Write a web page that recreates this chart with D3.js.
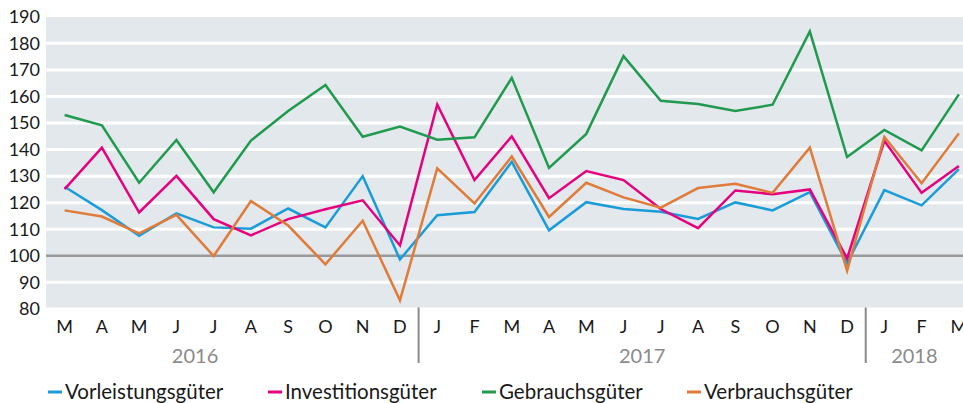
<!DOCTYPE html>
<html lang="de">
  <head>
    <meta charset="UTF-8" />
    <title>Produktion nach Gütergruppen</title>
    <script src="https://d3js.org/d3.v7.min.js"></script>
    <style>
      body {
        margin: 0;
        background: #fff;
        font-family: Lato, "Noto Sans", sans-serif;
      }
      svg text {
        fill: #1a1a1a;
      }
    </style>
  </head>
  <body>
    <div id="chart"></div>
    <script>
      // Monate März 2016 bis März 2018
      const months = ["M", "A", "M", "J", "J", "A", "S", "O", "N", "D",
        "J", "F", "M", "A", "M", "J", "J", "A", "S", "O", "N", "D",
        "J", "F", "M"];
      // Jahre als Monatsindex (2016 beginnt eigentlich im Januar = -2)
      const years = [
        { label: "2016", from: -2, to: 9 },
        { label: "2017", from: 10, to: 21 },
        { label: "2018", from: 22, to: 33 }
      ];
      const yTicks = [80, 90, 100, 110, 120, 130, 140, 150, 160, 170, 180, 190];

      const vorleistung = [126, 117.2, 107.5, 116, 110.7, 110.2, 117.8, 110.7, 130, 98.6,
        115.3, 116.5, 135.4, 109.6, 120.2, 117.6, 116.6, 113.9, 120.1, 117.1, 124, 97.1,
        124.7, 119, 132.6];
      const investition = [125.1, 140.7, 116.3, 130.1, 113.8, 107.7, 113.8, 117.5, 120.9, 103.9,
        157, 128.5, 145, 121.7, 131.9, 128.5, 117.6, 110.4, 124.6, 123.2, 125, 99,
        143.3, 123.7, 133.8];
      const gebrauch = [153, 149.1, 127.5, 143.6, 123.9, 143.4, 154.5, 164.3, 144.8, 148.7,
        143.7, 144.6, 167, 133.1, 145.9, 175.2, 158.4, 157.2, 154.5, 156.9, 184.5, 137.2,
        147.4, 139.7, 160.8];
      const verbrauch = [117.1, 114.8, 108.4, 115.4, 99.9, 120.6, 111.4, 96.8, 113.2, 83.2,
        132.9, 119.7, 137.4, 114.6, 127.5, 122, 118.1, 125.5, 127.1, 123.7, 140.7, 94.4,
        144.8, 127.3, 146.1];

      const series = [
        { name: "Vorleistungsgüter", color: "#1a9cd8", values: vorleistung },
        { name: "Investitionsgüter", color: "#e6007e", values: investition },
        { name: "Gebrauchsgüter", color: "#1f9a4e", values: gebrauch },
        { name: "Verbrauchsgüter", color: "#e07b39", values: verbrauch }
      ];

      const width = 963;
      const height = 403;
      const plotLeft = 46;
      const plotTop = 17;
      const plotBottom = 307.5;
      const step = 37.26;

      const svg = d3.select("#chart")
        .append("svg")
        .attr("width", width)
        .attr("height", height);

      const x = d3.scaleBand()
        .domain(d3.range(months.length))
        .range([plotLeft, plotLeft + step * months.length]);

      // Monatsindex -> linker Rand des Monats (auch außerhalb des Bereichs)
      const xEdge = d3.scaleLinear()
        .domain([0, months.length])
        .range(x.range());

      const y = d3.scaleLinear()
        .domain([80, 190])
        .range([308.9, 16.8]);

      const cx = i => x(i) + x.bandwidth() / 2;

      // Hintergrund
      svg.append("rect")
        .attr("x", plotLeft)
        .attr("y", plotTop)
        .attr("width", width - plotLeft)
        .attr("height", plotBottom - plotTop)
        .attr("fill", "#e3e8ec");

      // Gitterlinien
      svg.append("g")
        .selectAll("line")
        .data(yTicks.filter(d => d > 80 && d < 190))
        .join("line")
        .attr("x1", plotLeft)
        .attr("x2", width)
        .attr("y1", d => y(d))
        .attr("y2", d => y(d))
        .attr("stroke", d => d === 100 ? "#9a9a9a" : "#ffffff")
        .attr("stroke-width", d => d === 100 ? 2.5 : 3);

      // y-Achse
      svg.append("g")
        .selectAll("text")
        .data(yTicks)
        .join("text")
        .attr("x", 40)
        .attr("y", d => y(d))
        .attr("dy", "0.35em")
        .attr("text-anchor", "end")
        .style("font-size", "18px")
        .text(d => d);

      // Linien
      const line = d3.line()
        .x((d, i) => cx(i))
        .y(d => y(d));

      svg.append("g")
        .selectAll("path")
        .data(series)
        .join("path")
        .attr("d", d => line(d.values))
        .attr("fill", "none")
        .attr("stroke", d => d.color)
        .attr("stroke-width", 2.5)
        .attr("stroke-linejoin", "miter");

      // Monate
      svg.append("g")
        .selectAll("text")
        .data(months)
        .join("text")
        .attr("x", (d, i) => cx(i))
        .attr("y", 333)
        .attr("text-anchor", "middle")
        .style("font-size", "18px")
        .text(d => d);

      // Jahre und Trenner (Beschriftung mittig im sichtbaren Teil des Jahres)
      const yearG = svg.append("g");
      yearG.selectAll("text")
        .data(years)
        .join("text")
        .attr("x", d => (xEdge(d.from) + Math.min(xEdge(d.to + 1), width)) / 2)
        .attr("y", 363)
        .attr("text-anchor", "middle")
        .style("font-size", "20px")
        .style("fill", "#8a8a8a")
        .text(d => d.label);

      yearG.selectAll("line")
        .data(years.slice(1))
        .join("line")
        .attr("x1", d => xEdge(d.from))
        .attr("x2", d => xEdge(d.from))
        .attr("y1", plotBottom)
        .attr("y2", 363)
        .attr("stroke", "#8a8a8a")
        .attr("stroke-width", 2);

      // Legende
      const legendX = [48, 268, 482, 687];
      const legend = svg.append("g")
        .selectAll("g")
        .data(series)
        .join("g")
        .attr("transform", (d, i) => `translate(${legendX[i]},392)`);

      legend.append("rect")
        .attr("x", 0)
        .attr("y", -1.5)
        .attr("width", 14)
        .attr("height", 3)
        .attr("fill", d => d.color);

      legend.append("text")
        .attr("x", 17)
        .attr("y", 0)
        .attr("dy", "0.35em")
        .style("font-size", "20.5px")
        .text(d => d.name);
    </script>
  </body>
</html>
